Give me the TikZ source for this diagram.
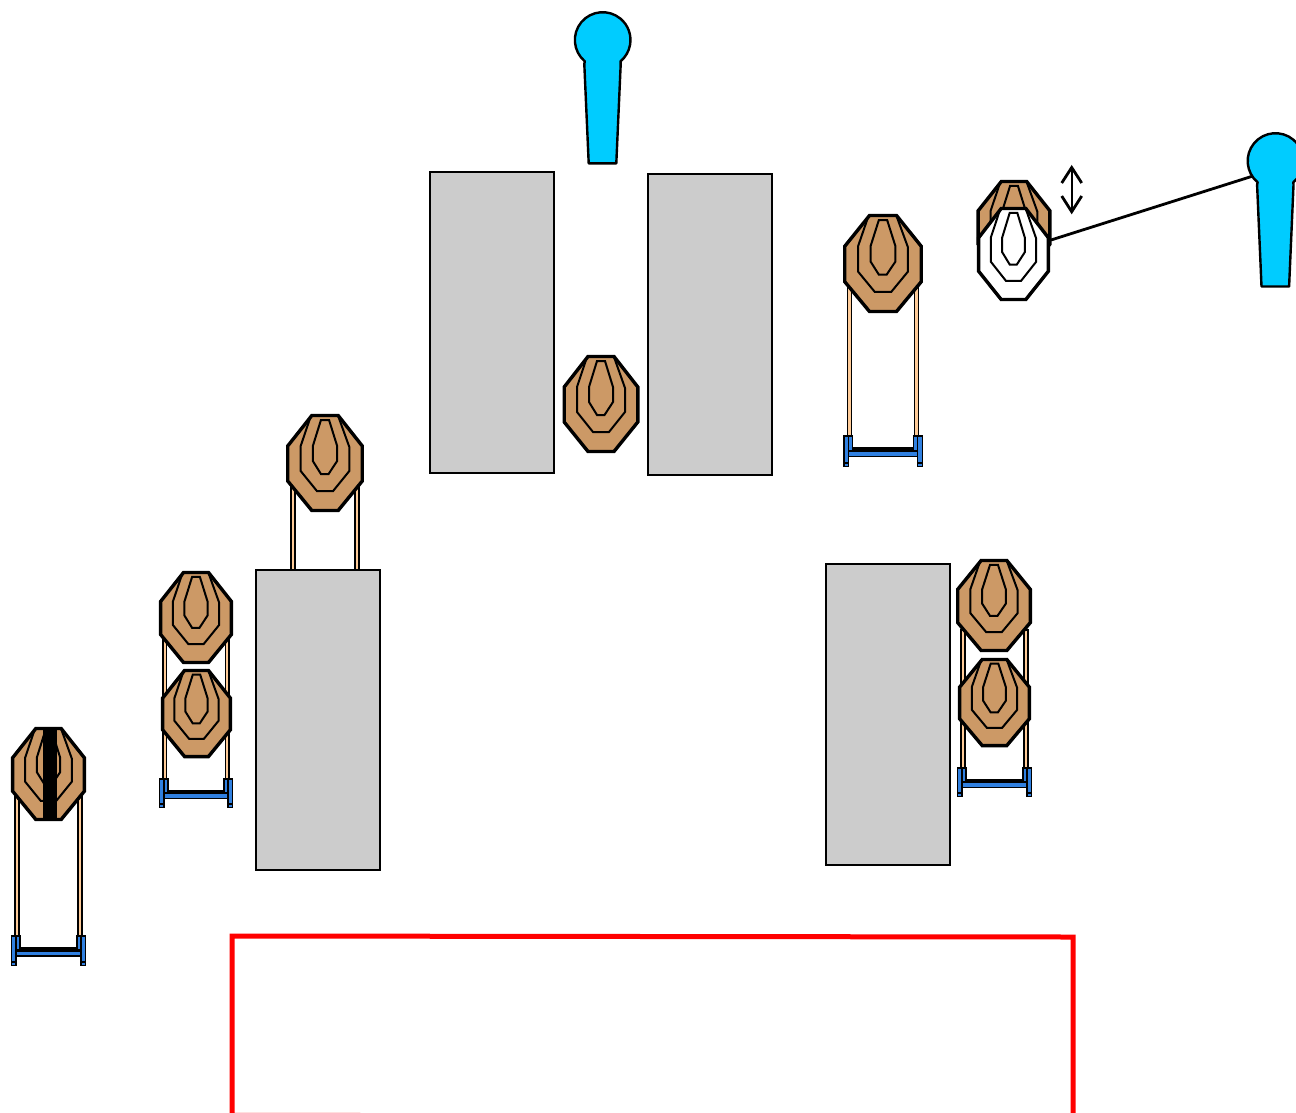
\documentclass[tikz,border=0pt]{standalone}
\definecolor{tan}{HTML}{CC9966}
\definecolor{wood}{HTML}{FFCC99}
\definecolor{head}{HTML}{00CCFF}
\definecolor{frame}{HTML}{3080E0}
\definecolor{wall}{HTML}{CCCCCC}
\tikzset{
  outerring/.style={draw=black,line width=3.4pt,line join=miter},
  innerring/.style={draw=black,line width=2pt,line join=miter},
  wallbox/.style={draw=black,line width=2.8pt,fill=wall},
  shooter/.style={draw=black,line width=2.4pt,fill=head,line join=round},
  postbar/.style={draw=black,line width=1.5pt,fill=wood},
  framebar/.style={draw=black,line width=1.5pt,fill=frame},
  thinline/.style={draw=black,line width=2.8pt}
}
% target: cx cy width height fill
\newcommand{\targetshape}[5]{%
  \begin{scope}[shift={(#1,#2)},xscale=#3/75,yscale=#4/96]
    \draw[outerring,fill=#5] (-13,-47.5)--(13,-47.5)--(36.8,-17)--(36.8,18)--(13,47.5)--(-13,47.5)--(-36.8,18)--(-36.8,-17)--cycle;
    \draw[innerring] (-14,-47)--(-24,-17)--(-24,8)--(-8,28)--(8,28)--(24,8)--(24,-16)--(13,-47);
    \draw[innerring] (-4,-43)--(4,-43)--(12,-17)--(12,-2)--(3.5,11)--(-4,11)--(-12,-2)--(-12,-17)--cycle;
  \end{scope}}
% stand: cx foottop halfwidth relative-post-top footheight
\newcommand{\standshape}[5]{%
  \begin{scope}[shift={(#1,#2)},xscale=#3/37.5]
    \draw[postbar] (-33.5,#4) rectangle (-29.7,0);
    \draw[postbar] (29.7,#4) rectangle (33.5,0);
    \begin{scope}[yscale=#5/30]
      \fill[black] (-32.5,11) rectangle (32.5,15);
      \draw[framebar] (-32.5,15) rectangle (32.5,20);
      \foreach \sx in {-1,1}{
        \begin{scope}[xscale=\sx]
          \draw[framebar] (-32.5,0) rectangle (-28.5,14);
          \draw[framebar] (-36.8,0) rectangle (-32.5,26);
          \draw[framebar] (-36.8,26) rectangle (-32.5,29.5);
        \end{scope}}
    \end{scope}
  \end{scope}}
% person: head centre x, y, body bottom offset
\newcommand{\personshape}[3]{%
  \draw[shooter,shift={(#1,#2)}] (-17.9,21.3) arc[start angle=130,end angle=410,radius=27.8] -- (18,24) -- (13.6,#3) -- (-14,#3) -- (-18.4,24) -- cycle;}
\begin{document}
\begin{tikzpicture}[x=1pt,y=-1pt]
\useasboundingbox (0,0) rectangle (1296,1112);
\clip (0,0) rectangle (1296,1112);
% stands and targets, left side
\standshape{48.5}{936}{37.5}{-146}{30}
\targetshape{48.5}{774}{73}{92}{tan}
\fill[black] (42.7,727) rectangle (56.7,819.5);
\standshape{196}{779}{37}{-144}{29}
\targetshape{196}{617.5}{72}{91}{tan}
\targetshape{196.5}{713.5}{69}{87}{tan}
\draw[postbar] (291,480) rectangle (294.8,575);
\draw[postbar] (355.2,480) rectangle (359,575);
\targetshape{325}{463}{76}{96}{tan}
% walls
\draw[wallbox] (430,172) rectangle (554,473);
\draw[wallbox] (648,174) rectangle (772,475);
\draw[wallbox] (256,570) rectangle (380,870);
\draw[wallbox] (826,564) rectangle (950,865);
\targetshape{601}{404}{75}{96}{tan}
\standshape{883}{436}{40}{-156}{31}
\targetshape{883}{263.5}{78}{97}{tan}
\standshape{994.5}{768}{37.5}{-138}{29}
\targetshape{994}{605.5}{74}{91}{tan}
\targetshape{994.5}{702.5}{71}{87}{tan}
% swinging target
\targetshape{1014}{227}{73}{92}{tan}
\targetshape{1013.5}{254}{71}{92}{white}
% shooters
\personshape{602.7}{40}{123.3}
\coordinate (cableA) at (1051,240);
\coordinate (cableB) at (1253,176);
\draw[thinline] (cableA) -- (cableB);
\personshape{1275.5}{161}{125.5}
% motion arrow
\coordinate (arrowTop) at (1071.7,167.5);
\coordinate (arrowBot) at (1071.7,211.7);
\draw[thinline,line join=miter] (1061.7,183) -- (arrowTop) -- (1081.7,183);
\draw[thinline,line join=miter] (1061.7,196) -- (arrowBot) -- (1081.7,196);
\draw[thinline,line width=2.4pt] (arrowTop) -- (arrowBot);
% shooting box
\draw[red,line width=5pt] (232,936) -- (1073,937) -- (1073,1116.5) -- (232,1115.3) -- cycle;
\end{tikzpicture}
\end{document}
